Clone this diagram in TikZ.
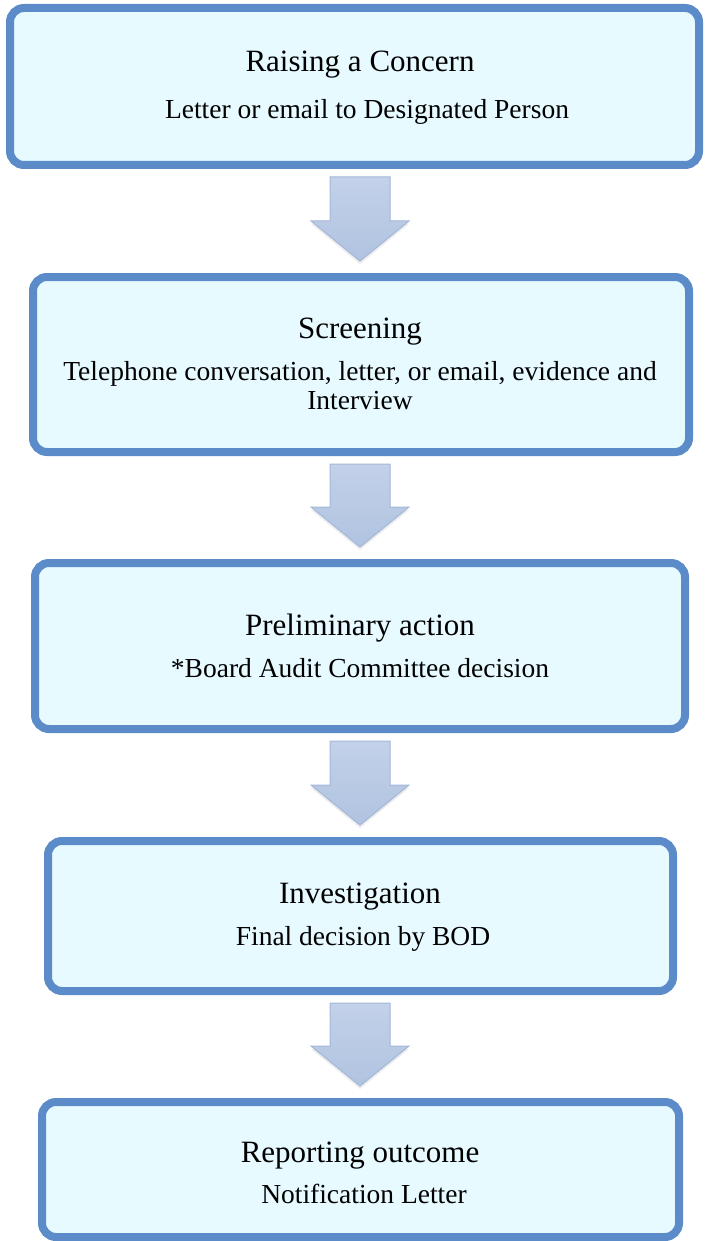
\documentclass[tikz,border=0pt]{standalone}
\usepackage{fontspec}
\setmainfont{Liberation Serif}
\usetikzlibrary{calc,positioning,shadows}
\definecolor{boxline}{HTML}{5B8BC9}
\definecolor{boxfill}{HTML}{E6FAFF}
\definecolor{arrowline}{HTML}{A3B7D9}
\definecolor{arrowtop}{HTML}{C3D1E9}
\definecolor{arrowbot}{HTML}{B0C3E0}
\def\flowarrow(#1)(#2)% (upper box) (lower box)
{ \draw[arrowbody] ($(#1.south -| axis)+(-30,8)$) -- ($(#2.north -| axis)+(-30,-52)$) -- ($(#2.north -| axis)+(-49,-52)$) -- ($(#2.north -| axis)+(0,-12)$) -- ($(#2.north -| axis)+(49,-52)$) -- ($(#2.north -| axis)+(30,-52)$) -- ($(#1.south -| axis)+(30,8)$) -- cycle;}

\begin{document}
\begin{tikzpicture}[x=1pt,y=-1pt,
  stepbox/.style={draw=boxline,fill=boxfill,line width=8pt,rounded corners=14pt,inner sep=0pt},
  steptitle/.style={font={\fontsize{31}{34}\selectfont},inner sep=0pt,anchor=base},
  stepnote/.style={font={\fontsize{27.5}{28.6}\selectfont},inner sep=0pt,anchor=base,align=center},
  arrowbody/.style={draw=arrowline,line width=1pt,top color=arrowtop,bottom color=arrowbot,
    drop shadow={shadow xshift=0pt,shadow yshift=-3pt,opacity=0.15,fill=black!50}}]
\useasboundingbox (0,0) rectangle (704,1241);
\coordinate (axis) at (360,0);

% boxes
\node[stepbox,minimum width=689pt,minimum height=157pt] (raise) at (354.5,86.5) {};
\node[stepbox,minimum width=656pt,minimum height=175pt] (screen) at (361,364.5) {};
\node[stepbox,minimum width=650pt,minimum height=166pt] (prelim) at (360,646) {};
\node[stepbox,minimum width=625pt,minimum height=150pt] (invest) at (360.5,916) {};
\node[stepbox,minimum width=637pt,minimum height=135pt] (report) at (360.5,1169.5) {};

% texts (base of a two-line note is its last line)
\node[steptitle] (raiset) at (360,72) {Raising a Concern};
\node[stepnote] (raisen) at (367,119) {Letter or email to Designated Person};
\node[steptitle] (screent) at (360,338) {Screening};
\node[stepnote] (screenn) at (360,409.5) {Telephone conversation, letter, or email, evidence and\\Interview};
\node[steptitle] (prelimt) at (360,635) {Preliminary action};
\node[stepnote] (prelimn) at (360,677) {*Board Audit Committee decision};
\node[steptitle] (investt) at (360,903) {Investigation};
\node[stepnote] (investn) at (363,945) {Final decision by BOD};
\node[steptitle] (reportt) at (360,1162) {Reporting outcome};
\node[stepnote] (reportn) at (364,1203) {Notification Letter};

% arrows
\flowarrow(raise)(screen)
\flowarrow(screen)(prelim)
\flowarrow(prelim)(invest)
\flowarrow(invest)(report)

\end{tikzpicture}
\end{document}
